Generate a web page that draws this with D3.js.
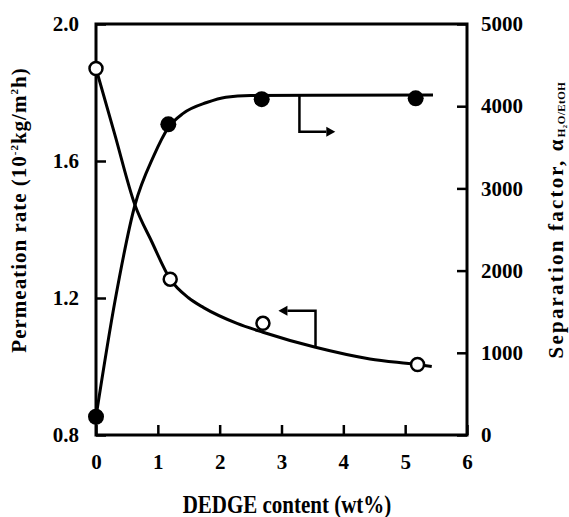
<!DOCTYPE html>
<html><head><meta charset="utf-8">
<script src="https://cdn.jsdelivr.net/npm/d3@7"></script>
<style>
html,body{margin:0;padding:0;background:#fff;}
svg{display:block;}
text{font-family:"Liberation Serif","Times New Roman",serif;font-weight:bold;fill:#000;}
</style></head>
<body>
<svg id="chart" width="569" height="517"></svg>
<script>
// ---- data ----
const xTicks = [0, 1, 2, 3, 4, 5, 6];
const leftTicks = [0.8, 1.2, 1.6, 2.0];
const rightTicks = [0, 1000, 2000, 3000, 4000, 5000];

// measured points
const contentPerm = [0, 1.2, 2.7, 5.2];
const permRate = [1.87, 1.255, 1.126, 1.006];
const contentSep = [0, 1.17, 2.68, 5.17];
const sepFactor = [222, 3780, 4085, 4096];

// hand-drawn fitted curves
const permCurveX = [0, 0.3, 0.63, 0.9, 1.2, 1.5, 1.74, 2.28, 2.7, 3.55, 4.43, 5.19, 5.43];
const permCurveY = [1.87, 1.68, 1.4715, 1.365, 1.255, 1.2, 1.172, 1.126, 1.1, 1.056, 1.022, 1.006, 1.0];
const sepCurveX = [0, 0.31, 0.63, 0.93, 1.17, 1.41, 1.79, 2.1, 2.5, 3.5, 5.45];
const sepCurveY = [222, 1642, 2798, 3390, 3740, 3913, 4045, 4110, 4130, 4134, 4136];

// axis-pointer arrows (data coordinates)
const sepArrowX = [3.29, 3.29, 3.87];
const sepArrowY = [4134, 3690, 3690];
const permArrowX = [3.55, 3.55, 2.95];
const permArrowY = [1.056, 1.163, 1.163];

// ---- layout ----
const svg = d3.select("#chart");
const L = 96, R = 467, T = 24, B = 435;
const x = d3.scaleLinear().domain([0, 6]).range([L, R]);
const yL = d3.scaleLinear().domain([0.8, 2.0]).range([B, T]);
const yR = d3.scaleLinear().domain([0, 5000]).range([B, T]);

// axes
const axB = svg.append("g").attr("transform", `translate(0,${B})`)
  .call(d3.axisBottom(x).tickValues(xTicks).tickFormat(d3.format("d")).tickSize(-10).tickPadding(19));
const axL = svg.append("g").attr("transform", `translate(${L},0)`)
  .call(d3.axisLeft(yL).tickValues(leftTicks).tickFormat(d3.format(".1f")).tickSize(-10).tickPadding(17));
const axR = svg.append("g").attr("transform", `translate(${R},0)`)
  .call(d3.axisRight(yR).tickValues(rightTicks).tickFormat(d3.format("d")).tickSize(-10).tickPadding(14));
[axB, axL, axR].forEach(a => {
  a.select(".domain").remove();
  a.selectAll(".tick line").attr("stroke", "#000").attr("stroke-width", 2.5);
  a.selectAll(".tick text").attr("font-size", 21).attr("font-family", null).attr("fill", "#000");
});

// frame
svg.append("rect").attr("x", L).attr("y", T).attr("width", R - L).attr("height", B - T)
  .attr("fill", "none").attr("stroke", "#000").attr("stroke-width", 3);

// curves
const permLine = d3.line().x(i => x(permCurveX[i])).y(i => yL(permCurveY[i])).curve(d3.curveMonotoneX);
const sepLine = d3.line().x(i => x(sepCurveX[i])).y(i => yR(sepCurveY[i])).curve(d3.curveMonotoneX);
svg.append("path").attr("d", permLine(d3.range(permCurveX.length)))
  .attr("fill", "none").attr("stroke", "#000").attr("stroke-width", 3);
svg.append("path").attr("d", sepLine(d3.range(sepCurveX.length)))
  .attr("fill", "none").attr("stroke", "#000").attr("stroke-width", 3);

// markers
svg.append("g").selectAll("circle").data(d3.range(contentSep.length)).join("circle")
  .attr("cx", i => x(contentSep[i])).attr("cy", i => yR(sepFactor[i])).attr("r", 8).attr("fill", "#000");
svg.append("g").selectAll("circle").data(d3.range(contentPerm.length)).join("circle")
  .attr("cx", i => x(contentPerm[i])).attr("cy", i => yL(permRate[i])).attr("r", 6.5)
  .attr("fill", "#fff").attr("stroke", "#000").attr("stroke-width", 2.5);

// arrows
function arrow(xs, ys, yscale) {
  const pts = xs.map((v, i) => [x(v), yscale(ys[i])]);
  const n = pts.length;
  const [x1, y1] = pts[n - 1], [x0, y0] = pts[n - 2];
  const dir = Math.sign(x1 - x0);
  const head = 9, hw = 5;
  const shaft = pts.slice(0, n - 1).concat([[x1 - dir * head, y1]]);
  svg.append("path").attr("d", d3.line()(shaft)).attr("fill", "none").attr("stroke", "#000").attr("stroke-width", 2.5);
  svg.append("path").attr("d", d3.line()([[x1, y1], [x1 - dir * head, y1 - hw], [x1 - dir * head, y1 + hw]]) + "Z")
    .attr("fill", "#000");
}
arrow(sepArrowX, sepArrowY, yR);
arrow(permArrowX, permArrowY, yL);

// axis titles
svg.append("text").attr("transform", "translate(287,513) scale(1,1.15)").attr("text-anchor", "middle")
  .attr("font-size", 21).text("DEDGE content (wt%)");

const lt = svg.append("text").attr("transform", "translate(26,210) rotate(-90)")
  .attr("text-anchor", "middle").attr("font-size", 21).attr("letter-spacing", 1.0);
lt.append("tspan").text("Permeation rate (10");
lt.append("tspan").attr("font-size", 11).attr("dy", -8).text("-2");
lt.append("tspan").attr("dy", 8).text("kg/m");
lt.append("tspan").attr("font-size", 11).attr("dy", -8).text("2");
lt.append("tspan").attr("dy", 8).text("h)");

const rt = svg.append("text").attr("transform", "translate(563,220) rotate(-90)")
  .attr("text-anchor", "middle").attr("font-size", 21);
rt.append("tspan").attr("letter-spacing", 2.2).text("Separation factor, α");
rt.append("tspan").attr("font-size", 11).attr("dy", 2).attr("letter-spacing", 0.5).text("H₂O/EtOH");
</script>
</body></html>
